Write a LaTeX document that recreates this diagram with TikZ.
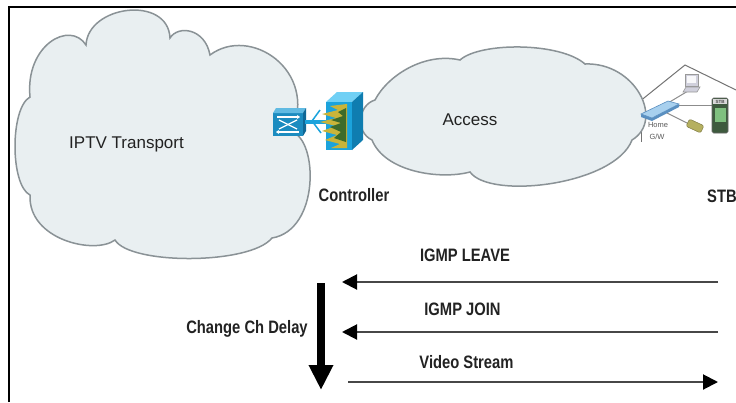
\documentclass[tikz,border=0pt]{standalone}
\usepackage{fontspec}
\setmainfont{Liberation Sans}
\newfontfamily\lblfont[FakeStretch=0.82]{Liberation Sans}
\usetikzlibrary{arrows.meta}

\definecolor{cloudfill}{RGB}{233,239,241}
\definecolor{cloudline}{RGB}{138,146,150}
\definecolor{swfront}{RGB}{28,140,192}
\definecolor{swtop}{RGB}{96,186,226}
\definecolor{swside}{RGB}{16,104,150}
\definecolor{boxfront}{RGB}{27,163,220}
\definecolor{boxtop}{RGB}{112,208,245}
\definecolor{boxside}{RGB}{15,125,176}
\definecolor{flame}{RGB}{201,180,58}
\definecolor{flamedark}{RGB}{62,107,42}
\definecolor{gwblue}{RGB}{168,208,238}
\definecolor{gwedge}{RGB}{90,143,192}
\definecolor{stbbody}{RGB}{62,90,62}
\definecolor{stbscreen}{RGB}{127,192,127}
\definecolor{phonecol}{RGB}{181,176,96}
\definecolor{pccol}{RGB}{208,208,220}
\definecolor{txt}{RGB}{34,34,34}

\tikzset{
  cloudshape/.style={fill=cloudfill, draw=cloudline, line width=1.5pt},
  plaintxt/.style={font=\fontsize{17}{20}\selectfont, text=txt, inner sep=0pt, anchor=base},
  boldlbl/.style={font=\lblfont\bfseries\fontsize{18}{20}\selectfont, text=txt, inner sep=0pt, anchor=base},
  tinytxt/.style={font=\fontsize{7.5}{8}\selectfont, text=black!65, inner sep=0pt},
  msg/.style={draw=black!72, line width=2pt,
    -{Triangle[length=15pt,width=15pt,color=black,fill=black]}},
  delay/.style={draw=black, line width=7.5pt,
    -{Triangle[length=25pt,width=23pt,color=black,fill=black]}},
  houseline/.style={draw=black!55, line width=1pt},
  wire/.style={draw=black!45, line width=1pt},
}

\begin{document}
\begin{tikzpicture}[x=1pt,y=-1pt]
\useasboundingbox (0,0) rectangle (736,402);
\fill[white] (0,0) rectangle (736,402);

% frame
\draw[line width=2.5pt] (9,402) -- (9,7) -- (736,7);

% house outline behind the access cloud
\draw[houseline] (634,106) -- (685,65) -- (736,90);
\draw[houseline] (641,106) -- (641,142);

% IPTV transport cloud
\path[cloudshape] (30,97)
  .. controls (25,45) and (70,20) .. (86,45)
  .. controls (88,5) and (168,-5) .. (170,38)
  .. controls (178,25) and (205,28) .. (210,55)
  .. controls (250,25) and (318,70) .. (292,132)
  .. controls (318,140) and (320,230) .. (272,238)
  .. controls (250,265) and (130,265) .. (115,240)
  .. controls (95,255) and (28,240) .. (30,195)
  .. controls (10,185) and (10,108) .. (30,97) -- cycle;

% access cloud
\path[cloudshape] (375,100)
  .. controls (388,75) and (425,52) .. (460,60)
  .. controls (480,42) and (560,42) .. (585,64)
  .. controls (635,62) and (665,120) .. (632,140)
  .. controls (615,185) and (490,200) .. (470,172)
  .. controls (440,180) and (385,172) .. (372,140)
  .. controls (355,132) and (358,105) .. (375,100) -- cycle;

\node[plaintxt] (iptv) at (126.5,148) {IPTV Transport};
\node[plaintxt] (access) at (470,125) {Access};

% controller: switch icon
\fill[swfront] (273,113) rectangle (303,136);
\fill[swtop] (273,113) -- (276,108) -- (306,108) -- (303,113) -- cycle;
\fill[swside] (303,113) -- (306,108) -- (306,131) -- (303,136) -- cycle;
\begin{scope}[draw=white, line width=1.3pt, arrows={-Stealth[length=3pt,width=4pt]}]
  \draw (277,117) -- (300,117);
  \draw (299,132) -- (276,132);
  \draw[-] (279,120) -- (297,129);
  \draw[-] (279,129) -- (297,120);
\end{scope}
\coordinate (swport) at (305,122);
\coordinate (boxport) at (326,122);
\draw[draw=boxfront, line width=3.5pt] (swport) -- (boxport);
\draw[draw=boxfront, line width=1.5pt] (320,110) -- (312,121) -- (321,133);

% controller: appliance box
\fill[boxtop] (326,102) -- (337,92) -- (363,92) -- (352,102) -- cycle;
\fill[boxside] (352,102) -- (363,92) -- (363,140) -- (352,150) -- cycle;
\fill[boxfront] (326,102) rectangle (352,150);
\fill[flame] (347,104) -- (330,106) -- (338,110) -- (322,114) -- (336,118)
  -- (320,122) -- (336,126) -- (322,131) -- (337,135) -- (325,140)
  -- (340,144) -- (331,148) -- (347,148) -- cycle;
\fill[flamedark] (346,108) -- (338,112) -- (343,116) -- (331,120) -- (341,123)
  -- (330,127) -- (341,132) -- (334,138) -- (346,142) -- cycle;

\node[boldlbl] (ctrl) at (354,201) {Controller};

% home network
\coordinate (gwA) at (668,103);
\coordinate (gwB) at (677,105);
\coordinate (gwC) at (665,112);
\coordinate (pcA) at (688,91);
\coordinate (stbA) at (712,105);
\coordinate (phA) at (689,124);
\draw[wire] (gwA) -- (pcA);
\draw[wire] (gwB) -- (stbA);
\draw[wire] (gwC) -- (phA);

% gateway
\fill[gwedge] (641,114) -- (641,117) -- (652,121) -- (679,107) -- (679,104) -- (652,118) -- cycle;
\filldraw[fill=gwblue, draw=gwedge, line width=0.6pt]
  (641,114) -- (668,101) -- (679,104) -- (652,118) -- cycle;
\node[tinytxt] (home) at (658,125) {Home};
\node[tinytxt] (gw) at (657,137) {G/W};

% pc
\filldraw[fill=pccol, draw=black!40, line width=0.6pt] (685,74) rectangle (698,86);
\fill[white!85!pccol] (687,76) rectangle (696,83);
\filldraw[fill=pccol, draw=black!40, line width=0.6pt] (683,92) -- (686,87) -- (700,87) -- (697,92) -- cycle;

% phone
\filldraw[fill=phonecol, draw=phonecol!70!black, line width=0.5pt,
  rotate around={-25:(695,126)}, rounded corners=2pt] (687,122) rectangle (703,130);

% set-top box
\filldraw[fill=stbbody, draw=black!60, line width=0.6pt, rounded corners=1.5pt] (712,98) rectangle (728,133);
\fill[black!15] (713,99) rectangle (727,104);
\node[font=\fontsize{4.5}{5}\selectfont\bfseries, text=black!70, inner sep=0pt] (stbtag) at (720,101.5) {STB};
\fill[stbscreen] (714.5,108) rectangle (725.5,122);

\node[boldlbl] (stb) at (722,202) {STB};

% message flow
\node[boldlbl] (leave) at (465,261) {IGMP LEAVE};
\node[boldlbl] (join) at (462.5,315) {IGMP JOIN};
\node[boldlbl] (video) at (466.5,368) {Video Stream};
\node[boldlbl] (chdelay) at (247,333) {Change Ch Delay};

\coordinate (leaveS) at (718,282);
\coordinate (leaveC) at (342,282);
\coordinate (joinS) at (718,332);
\coordinate (joinC) at (342,332);
\coordinate (videoC) at (348,382);
\coordinate (videoS) at (718,382);
\draw[msg] (leaveS) -- (leaveC);
\draw[msg] (joinS) -- (joinC);
\draw[msg] (videoC) -- (videoS);

\coordinate (delayTop) at (321,283);
\coordinate (delayEnd) at (321,390);
\draw[delay] (delayTop) -- (delayEnd);
\end{tikzpicture}
\end{document}
